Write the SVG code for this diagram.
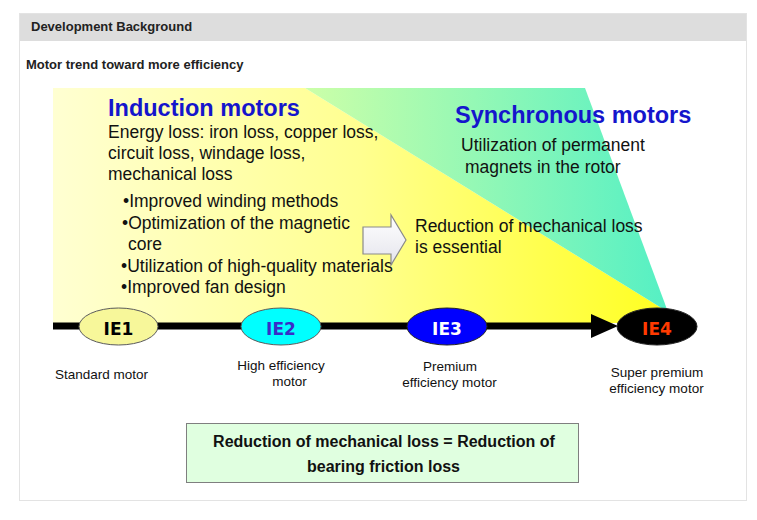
<svg xmlns="http://www.w3.org/2000/svg" width="757" height="520" viewBox="0 0 757 520">
<style>
text{font-family:"Liberation Sans",Arial,sans-serif;}
.hdr{font-size:13px;font-weight:bold;fill:#222;}
.title{font-size:23.5px;font-weight:bold;fill:#1515cc;}
.body{font-size:17.5px;fill:#111;}
.lbl{font-size:13.5px;fill:#111;}
.ie{font-family:"DejaVu Sans",Verdana,sans-serif;font-size:17px;font-weight:bold;text-anchor:middle;}
.box{font-size:16px;font-weight:bold;fill:#111;text-anchor:middle;}
.mid{text-anchor:middle;}
</style>
<defs>
<linearGradient id="gy" x1="53" y1="0" x2="668" y2="0" gradientUnits="userSpaceOnUse">
<stop offset="0" stop-color="#ffffd2"/>
<stop offset="0.5" stop-color="#ffff90"/>
<stop offset="1" stop-color="#ffff20"/>
</linearGradient>
<linearGradient id="gg" x1="305" y1="0" x2="668" y2="0" gradientUnits="userSpaceOnUse">
<stop offset="0" stop-color="#ccffa8"/>
<stop offset="1" stop-color="#55f0c4"/>
</linearGradient>
<linearGradient id="gw" x1="0" y1="0" x2="0" y2="1">
<stop offset="0" stop-color="#ffffff"/>
<stop offset="1" stop-color="#e4e4ec"/>
</linearGradient>
</defs>
<rect x="0" y="0" width="757" height="520" fill="#ffffff"/>
<!-- panel -->
<rect x="19.5" y="13.5" width="727" height="487" fill="#ffffff" stroke="#e3e3e3" stroke-width="1"/>
<rect x="20" y="14" width="726" height="27" fill="#dddddd"/>
<text class="hdr" x="31" y="31">Development Background</text>
<text class="hdr" x="26" y="69">Motor trend toward more efficiency</text>
<!-- background areas -->
<polygon points="53,88 305,88 668,312 668,323 53,323" fill="url(#gy)"/>
<polygon points="305,88 585,88 668,312" fill="url(#gg)"/>
<!-- texts -->
<g id="induction">
<text class="title" x="108" y="116">Induction motors</text>
<text class="body" x="108" y="138">Energy loss: iron loss, copper loss,</text>
<text class="body" x="108" y="159">circuit loss, windage loss,</text>
<text class="body" x="108" y="180">mechanical loss</text>
<text class="body" x="123" y="207">•Improved winding methods</text>
<text class="body" x="122" y="229">•Optimization of the magnetic</text>
<text class="body" x="128" y="250">core</text>
<text class="body" x="121" y="272">•Utilization of high-quality materials</text>
<text class="body" x="121" y="293">•Improved fan design</text>
</g>
<g id="synchronous">
<text class="title" x="455" y="123">Synchronous motors</text>
<text class="body" x="461" y="151">Utilization of permanent</text>
<text class="body" x="465" y="173">magnets in the rotor</text>
</g>
<g id="reduction">
<text class="body" x="415" y="232">Reduction of mechanical loss</text>
<text class="body" x="415" y="253">is essential</text>
</g>
<g id="connectors">
<polygon points="363,227 391,227 391,215 406,240 391,265 391,254 363,254" fill="url(#gw)" stroke="#8a8a8a" stroke-width="1.2"/>
<rect x="53" y="322.5" width="541" height="7" fill="#000"/>
<polygon points="591,314 618,326 591,338" fill="#000"/>
</g>
<g id="ie1">
<ellipse cx="118.5" cy="326.5" rx="39.5" ry="18.5" fill="#f7f79a" stroke="#5a5a5a" stroke-width="1"/>
<text class="ie" x="118.5" y="334.5" fill="#000">IE1</text>
</g>
<g id="ie2">
<ellipse cx="281" cy="326.5" rx="40" ry="18.5" fill="#00ffff" stroke="#5a5a5a" stroke-width="1"/>
<text class="ie" x="281" y="334.5" fill="#3a2cc8">IE2</text>
</g>
<g id="ie3">
<ellipse cx="447" cy="326.5" rx="40" ry="18.5" fill="#0000ff" stroke="#222" stroke-width="1"/>
<text class="ie" x="447" y="334.5" fill="#ffffff">IE3</text>
</g>
<g id="ie4">
<ellipse cx="657" cy="326.5" rx="40" ry="18.5" fill="#000000" stroke="#222" stroke-width="1"/>
<text class="ie" x="657" y="334.5" fill="#ff3a00">IE4</text>
</g>
<g id="labels">
<text class="lbl" x="55" y="379">Standard motor</text>
<text class="lbl mid" x="281" y="370">High efficiency</text>
<text class="lbl mid" x="289.5" y="386">motor</text>
<text class="lbl mid" x="450" y="371">Premium</text>
<text class="lbl mid" x="449.5" y="387">efficiency motor</text>
<text class="lbl mid" x="657" y="377">Super premium</text>
<text class="lbl mid" x="656.5" y="393">efficiency motor</text>
</g>
<g id="summary">
<rect x="186.5" y="423.5" width="392" height="59" fill="#e0ffe0" stroke="#7f7f7f" stroke-width="1"/>
<text class="box" x="384" y="447">Reduction of mechanical loss = Reduction of</text>
<text class="box" x="383.5" y="472">bearing friction loss</text>
</g>
</svg>
